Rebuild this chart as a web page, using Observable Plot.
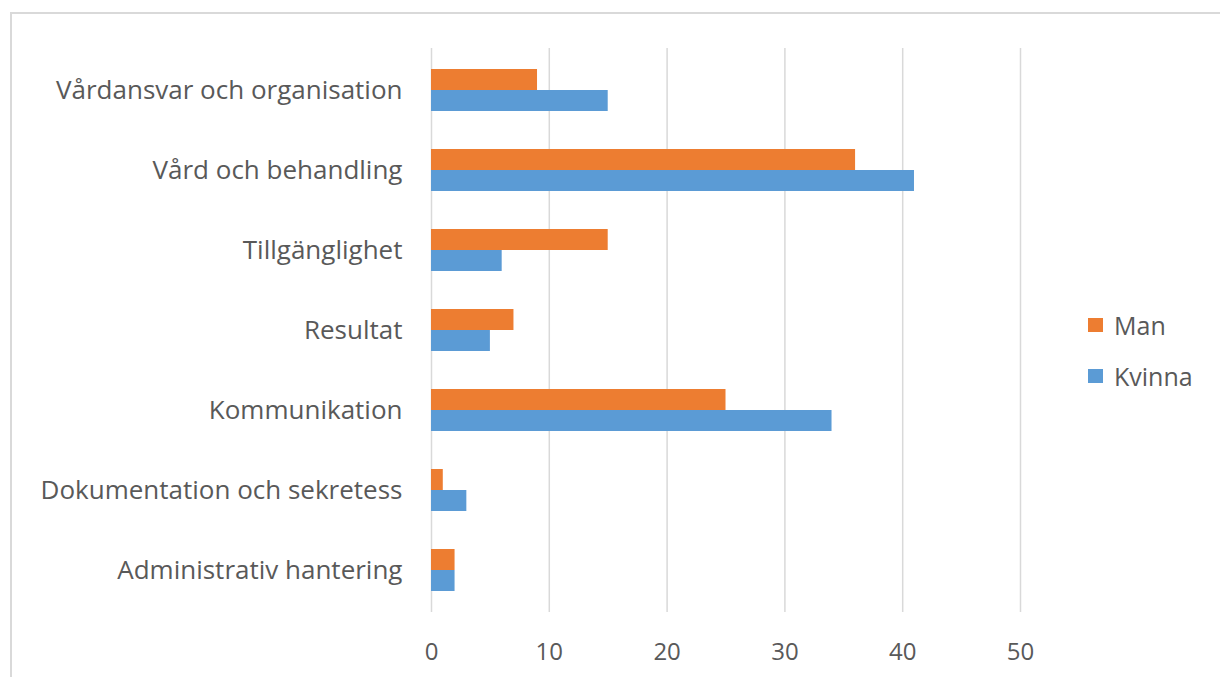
<!DOCTYPE html>
<html>
<head>
<meta charset="utf-8">
<script src="https://cdn.jsdelivr.net/npm/d3@7"></script>
<script src="https://cdn.jsdelivr.net/npm/@observablehq/plot@0.6"></script>
<style>
  body { margin: 0; background: #fff; }
  #wrap { position: relative; width: 1220px; height: 677px; overflow: hidden; background: #fff; }
  #border { position: absolute; left: 10px; top: 12px; width: 1300px; height: 800px; border-top: 2px solid #d9d9d9; border-left: 2px solid #d9d9d9; }
  #chart { position: absolute; left: 0; top: 0; }
  #legend { position: absolute; left: 1088px; top: 307px; font-family: "Open Sans", sans-serif; font-size: 25px; color: #595959; }
  #legend div { display: flex; align-items: center; height: 36px; margin-bottom: 15px; }
  #legend span.sw { display: inline-block; width: 15px; height: 14px; margin-right: 11px; }
</style>
</head>
<body>
<div id="wrap">
  <div id="border"></div>
  <div id="chart"></div>
  <div id="legend"></div>
</div>
<script>
const categories = [
  "Vårdansvar och organisation",
  "Vård och behandling",
  "Tillgänglighet",
  "Resultat",
  "Kommunikation",
  "Dokumentation och sekretess",
  "Administrativ hantering"
];
const seriesNames = ["Man", "Kvinna"];
const manValues = [9, 36, 15, 7, 25, 1, 2];
const kvinnaValues = [15, 41, 6, 5, 34, 3, 2];
const seriesColors = ["#ED7D31", "#5B9BD5"];
const xTicks = [0, 10, 20, 30, 40, 50];

const manData = categories.map((c, i) => ({category: c, series: "Man", value: manValues[i]}));
const kvinnaData = categories.map((c, i) => ({category: c, series: "Kvinna", value: kvinnaValues[i]}));

const chart = Plot.plot({
  width: 1220,
  height: 677,
  marginLeft: 431,
  marginRight: 200,
  marginTop: 48,
  marginBottom: 65,
  style: {fontFamily: "'Open Sans', sans-serif", fontSize: "24px", color: "#595959", background: "transparent"},
  x: {domain: [0, 50], ticks: xTicks, tickSize: 0, tickPadding: 30, label: null},
  y: {domain: categories, paddingInner: 0.479, paddingOuter: 0.2395, tickSize: 0, tickPadding: 29, label: null},
  color: {domain: seriesNames, range: seriesColors},
  marks: [
    Plot.gridX(xTicks, {stroke: "#d9d9d9", strokeOpacity: 1, strokeWidth: 1.5}),
    Plot.barX(manData, {y: "category", x: "value", fill: "series", insetBottom: 21}),
    Plot.barX(kvinnaData, {y: "category", x: "value", fill: "series", insetTop: 21}),
    Plot.axisY({tickSize: 0, tickPadding: 29, fontSize: 26, label: null}),
    Plot.axisX({ticks: xTicks, tickSize: 0, tickPadding: 30, fontSize: 24, label: null})
  ]
});
document.getElementById("chart").appendChild(chart);

const legend = document.getElementById("legend");
seriesNames.forEach((s, i) => {
  const row = document.createElement("div");
  const sw = document.createElement("span");
  sw.className = "sw";
  sw.style.background = seriesColors[i];
  row.appendChild(sw);
  row.appendChild(document.createTextNode(s));
  legend.appendChild(row);
});
</script>
</body>
</html>
